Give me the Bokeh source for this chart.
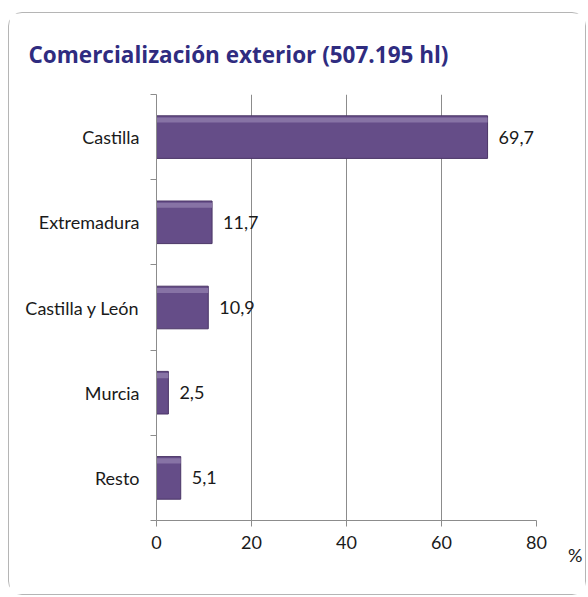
from bokeh.plotting import figure
from bokeh.models import Range1d, FixedTicker, ColumnDataSource, Title
from bokeh.embed import file_html
from bokeh.resources import INLINE
from bokeh.core.properties import value

categories = ["Castilla", "Extremadura", "Castilla y León", "Murcia", "Resto"]
values = [69.7, 11.7, 10.9, 2.5, 5.1]
value_labels = ["69,7", "11,7", "10,9", "2,5", "5,1"]
x_ticks = [0, 20, 40, 60, 80]
title_text = "Comercialización exterior (507.195 hl)"
unit_text = "%"

n = len(categories)
pos = [i + 0.5 for i in range(n)]

src = ColumnDataSource(dict(y=pos, v=values, lab=value_labels,
                            hi=[p_ - 0.2 for p_ in pos]))

p = figure(width=578, height=583, output_backend="svg", toolbar_location=None,
           x_range=Range1d(0, 80), y_range=Range1d(n, 0),
           min_border_left=147, min_border_right=51, min_border_top=81,
           min_border_bottom=76, title=None)
p.margin = (12, 0, 0, 8)
p.styles = {"border": "1px solid #b5b5b5", "border-radius": "14px"}
p.outline_line_color = None
p.background_fill_color = "white"
p.border_fill_color = "white"

FONT = "Lato"
TXT = "#1a1a1a"

# title
t = Title(text=title_text, align="left", offset=-128, standoff=46,
          vertical_align="top",
          text_font="Open Sans", text_font_size="22.5px", text_font_style="bold",
          text_color="#2f2c80")
p.add_layout(t, "above")

# grid
p.ygrid.grid_line_color = None
p.xgrid.ticker = FixedTicker(ticks=x_ticks[1:])
p.xgrid.grid_line_color = "#8c8c8c"
p.xgrid.grid_line_width = 1

# x axis
p.xaxis.ticker = FixedTicker(ticks=x_ticks)
p.xaxis.axis_line_color = "#8c8c8c"
p.xaxis.major_tick_line_color = "#8c8c8c"
p.xaxis.major_tick_in = 0
p.xaxis.major_tick_out = 6
p.xaxis.minor_tick_line_color = None
p.xaxis.major_label_standoff = 9
p.xaxis.major_label_text_font = FONT
p.xaxis.major_label_text_font_size = "18px"
p.xaxis.major_label_text_color = TXT

# y axis: labels at centers, ticks at boundaries
p.yaxis.ticker = FixedTicker(ticks=pos, minor_ticks=list(range(n + 1)))
p.yaxis.major_label_overrides = {pp: c for pp, c in zip(pos, categories)}
p.yaxis.axis_line_color = "#8c8c8c"
p.yaxis.major_tick_line_color = None
p.yaxis.minor_tick_line_color = "#8c8c8c"
p.yaxis.minor_tick_in = 0
p.yaxis.minor_tick_out = 6
p.yaxis.major_label_standoff = 11
p.yaxis.major_label_text_font = FONT
p.yaxis.major_label_text_font_size = "18px"
p.yaxis.major_label_text_color = TXT

# unit label
u = Title(text=unit_text, align="right", offset=-46, standoff=-19,
          text_font=FONT, text_font_size="18px", text_font_style="normal",
          text_color=TXT)
p.add_layout(u, "below")

# bars
p.hbar(y="y", right="v", left=0, height=0.5, source=src,
       fill_color="#654d88", line_color="#4a3566", line_width=1)
p.hbar(y="hi", right="v", left=0, height=0.06, source=src,
       fill_color="#8773a5", line_color=None)

# value labels
p.text(x="v", y="y", text="lab", source=src, x_offset=11,
       text_align="left", text_baseline="middle",
       text_font=value(FONT), text_font_size="18px", text_color=TXT)

open("out.html", "w").write(file_html(p, INLINE))
